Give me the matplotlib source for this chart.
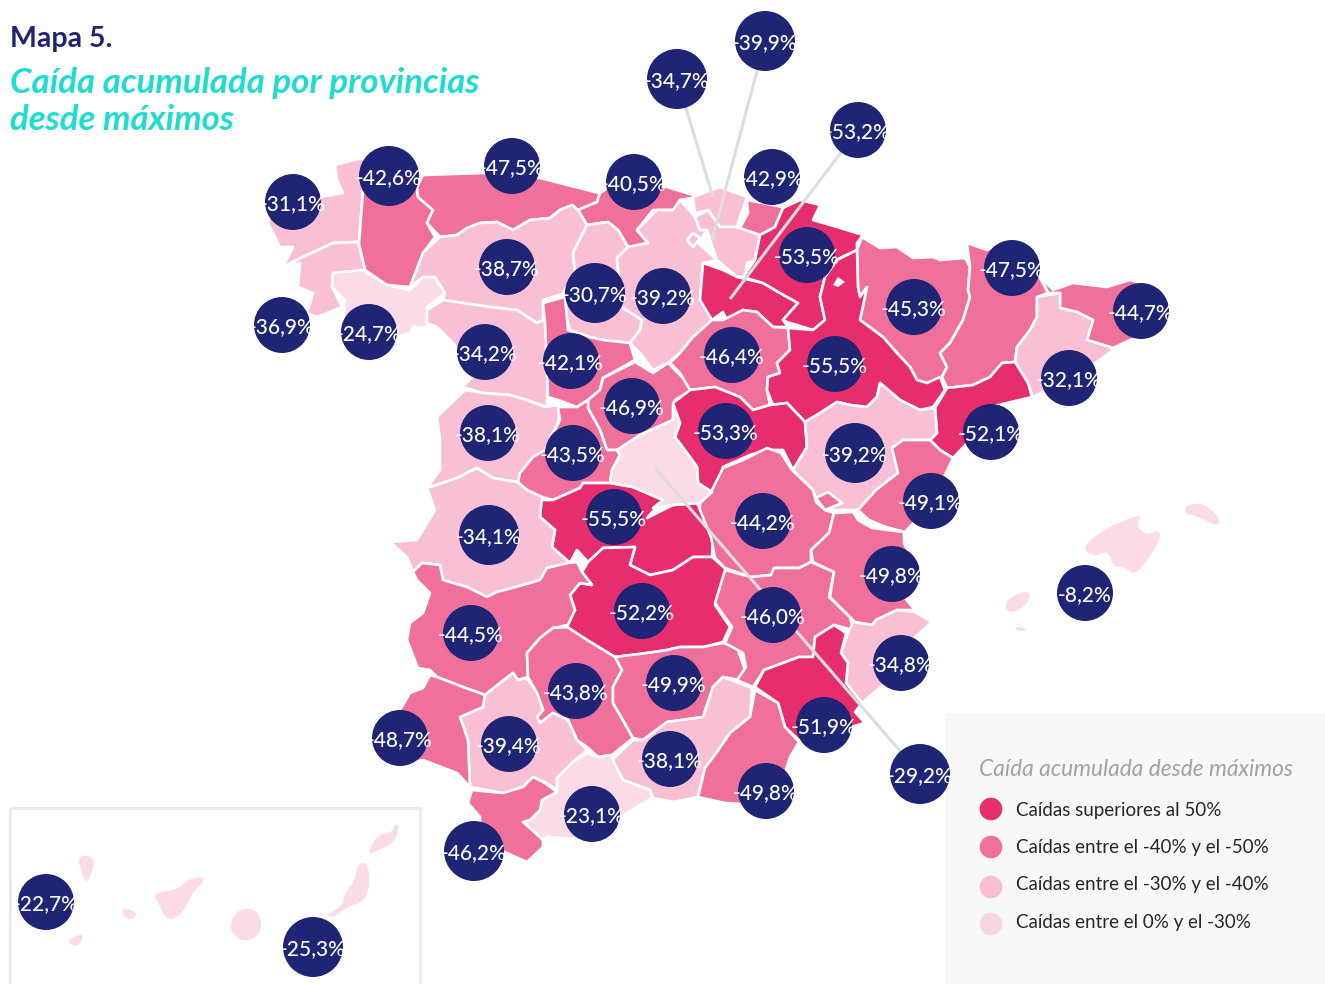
import matplotlib
matplotlib.use("Agg")
import matplotlib.pyplot as plt
from matplotlib.patches import Polygon, Circle, Rectangle

names = ["A Coruna", "Lugo", "Asturias", "Cantabria", "Pontevedra", "Ourense", "Leon", "Palencia", "Burgos",
         "Zamora", "Valladolid", "Segovia", "Salamanca", "Avila", "Bizkaia", "Alava", "La Rioja", "Gipuzkoa",
         "Navarra", "Huesca", "Lleida", "Girona", "Barcelona", "Soria", "Zaragoza", "Guadalajara", "Tarragona",
         "Teruel", "Toledo", "Caceres", "Ciudad Real", "Badajoz", "Cordoba", "Jaen", "Sevilla", "Granada",
         "Malaga", "Cadiz", "Huelva", "Cuenca", "Albacete", "Castellon", "Valencia", "Alicante", "Murcia",
         "Almeria", "Madrid", "Baleares", "Tenerife", "Las Palmas"]
values = [-31.1, -42.6, -47.5, -40.5, -36.9, -24.7, -38.7, -30.7, -39.2,
          -34.2, -42.1, -46.9, -38.1, -43.5, -34.7, -39.9, -53.2, -42.9,
          -53.5, -45.3, -47.5, -44.7, -32.1, -46.4, -55.5, -53.3, -52.1,
          -39.2, -55.5, -34.1, -52.2, -44.5, -43.8, -49.9, -39.4, -38.1,
          -23.1, -46.2, -48.7, -44.2, -46.0, -49.1, -49.8, -34.8, -51.9,
          -49.8, -29.2, -8.2, -22.7, -25.3]
bubble_x = [293, 389, 512, 634, 282, 369, 507, 595, 663,
            485, 571, 632, 488, 573, 677, 765, 858, 772,
            807, 914, 1012, 1141, 1069, 732, 835, 726, 991,
            855, 614, 489, 642, 471, 576, 674, 509, 670,
            592, 474, 400, 763, 773, 931, 892, 901, 824,
            766, 920, 1085, 46, 313]
bubble_y = [202, 176, 166, 182, 325, 332, 267, 293, 296,
            352, 361, 406, 433, 453, 79, 41, 130, 177,
            255, 307, 268, 311, 378, 355, 364, 431, 432,
            453, 517, 535, 611, 633, 691, 683, 744, 759,
            814, 851, 738, 521, 615, 501, 574, 663, 725,
            791, 774, 593, 902, 947]
big_bubbles = ["Lugo", "Palencia", "Bizkaia", "Alava", "Teruel", "Caceres", "Cadiz", "Madrid", "Las Palmas"]

legend_labels = ["Caídas superiores al 50%", "Caídas entre el -40% y el -50%",
                 "Caídas entre el -30% y el -40%", "Caídas entre el 0% y el -30%"]
legend_colors = ["#E62D6E", "#EF709B", "#F8BFD4", "#F7D6E3"]
legend_y = [809, 847, 887, 924]
legend_text_y = [816, 853, 890, 928]

# outlines traced in picture pixels
shapes = {
    "A Coruna": [[(268,223),(270,205),(300,185),(320,197),(343,193),(337,180),(335,165),(362,158),(372,175),(363,190),(359,242),(333,243),(303,257),(283,267),(293,247),(280,247)]],
    "Lugo": [[(363,190),(362,175),(385,165),(405,175),(417,187),(418,197),(433,210),(427,223),(435,237),(423,253),(410,287),(387,285),(365,270),(359,244)]],
    "Asturias": [[(417,187),(423,175),(483,173),(540,178),(595,192),(600,193),(597,202),(578,210),(572,205),(560,210),(550,218),(530,220),(513,230),(497,222),(480,223),(467,228),(457,235),(440,237),(427,223),(433,210),(418,197)]],
    "Cantabria": [[(600,193),(620,180),(667,187),(693,195),(697,197),(680,200),(675,210),(653,210),(637,230),(648,243),(628,247),(618,230),(608,222),(587,225),(578,210),(597,202)]],
    "Pontevedra": [[(283,267),(303,257),(333,243),(358,242),(365,270),(333,273),(332,287),(342,307),(317,317),(307,313),(313,293),(298,287),(300,263)]],
    "Ourense": [[(333,273),(363,270),(387,285),(410,290),(423,277),(435,277),(445,293),(427,307),(427,327),(413,327),(410,333),(397,337),(370,350),(343,323),(345,300),(332,287)]],
    "Leon": [[(423,253),(440,237),(457,235),(467,228),(480,223),(497,222),(513,230),(530,220),(550,218),(560,210),(572,205),(578,210),(587,225),(583,233),(573,253),(575,273),(565,293),(543,300),(543,320),(537,323),(517,310),(490,307),(463,303),(443,300),(445,293),(435,277),(423,277),(410,287)]],
    "Palencia": [[(587,225),(608,222),(618,230),(628,247),(617,258),(618,270),(622,307),(642,320),(640,330),(630,343),(603,340),(590,337),(570,330),(567,320),(563,293),(575,273),(573,253)]],
    "Burgos": [[(637,230),(657,210),(673,210),(680,200),(695,217),(700,230),(707,230),(698,243),(717,260),(703,263),(700,300),(713,320),(693,337),(680,353),(668,363),(653,370),(640,353),(630,343),(640,330),(642,320),(622,307),(618,270),(617,258),(628,247),(648,243)],
               [(717,250),(723,245),(740,252),(738,260),(727,262)], [(687,240),(693,233),(700,238),(693,247)]],
    "Zamora": [[(427,310),(443,300),(463,303),(490,307),(517,310),(537,323),(543,320),(548,327),(547,407),(527,400),(510,395),(483,393),(463,387),(472,377),(455,345),(437,327),(427,323)]],
    "Valladolid": [[(543,303),(565,297),(568,330),(590,337),(603,340),(630,343),(635,360),(603,378),(600,390),(588,400),(577,407),(558,400),(548,397),(545,323)]],
    "Segovia": [[(635,362),(653,373),(668,363),(683,378),(692,390),(675,400),(673,420),(640,435),(617,450),(607,450),(600,430),(588,408),(588,400),(600,390),(603,378)]],
    "Salamanca": [[(437,417),(465,390),(483,393),(510,395),(527,400),(545,407),(558,405),(559,420),(545,450),(525,470),(517,482),(493,478),(477,468),(457,478),(427,488),(440,470),(440,440)]],
    "Avila": [[(558,407),(577,407),(588,400),(588,408),(600,430),(607,450),(617,450),(620,455),(612,470),(610,483),(583,483),(580,488),(553,500),(542,497),(527,490),(518,482),(520,473),(533,457),(545,450),(560,420)]],
    "Bizkaia": [[(693,197),(720,187),(747,197),(740,217),(737,227),(720,227),(708,210),(695,213)]],
    "Alava": [[(695,217),(708,210),(720,227),(737,227),(760,235),(755,260),(747,263),(745,277),(737,277),(717,260),(707,230),(700,230)]],
    "La Rioja": [[(703,263),(723,270),(737,277),(763,283),(780,293),(798,303),(783,320),(788,327),(773,327),(757,312),(743,310),(727,320),(723,312),(712,320),(700,300)]],
    "Gipuzkoa": [[(747,200),(783,207),(793,200),(783,208),(775,227),(760,235),(740,228),(748,213)]],
    "Navarra": [[(800,200),(820,205),(813,220),(837,227),(863,235),(857,243),(857,250),(842,257),(837,260),(825,277),(820,297),(825,320),(813,330),(787,322),(783,320),(798,303),(780,293),(763,283),(743,277),(755,260),(760,235),(775,227),(783,208)]],
    "Huesca": [[(862,237),(880,248),(897,247),(913,258),(933,257),(940,260),(965,258),(970,267),(968,290),(970,297),(963,320),(950,343),(940,353),(947,367),(942,377),(927,383),(917,380),(910,367),(897,353),(883,337),(860,320),(867,287),(860,297),(858,287),(857,250)]],
    "Lleida": [[(967,243),(987,250),(1010,240),(1040,278),(1048,293),(1037,297),(1037,317),(1030,330),(1017,347),(1015,362),(1002,363),(990,377),(973,385),(947,388),(942,377),(947,367),(940,353),(950,343),(963,320),(970,297),(968,290),(970,267)]],
    "Girona": [[(1042,278),(1053,290),(1073,283),(1107,287),(1130,280),(1140,283),(1160,300),(1147,333),(1130,340),(1113,348),(1110,347),(1087,340),(1093,320),(1077,312),(1060,308),(1060,293),(1048,293)]],
    "Barcelona": [[(1037,297),(1060,293),(1060,308),(1077,312),(1093,320),(1087,340),(1110,347),(1113,350),(1097,362),(1075,375),(1033,397),(1028,383),(1015,362),(1017,347),(1030,330),(1037,317)]],
    "Soria": [[(723,320),(743,310),(757,312),(773,327),(788,328),(790,350),(777,363),(780,373),(768,377),(767,390),(770,405),(753,410),(740,397),(715,387),(690,390),(680,373),(670,363),(680,353),(693,337),(712,320)]],
    "Zaragoza": [[(857,250),(858,287),(860,297),(867,287),(860,320),(883,337),(897,353),(910,367),(917,380),(927,383),(940,377),(945,390),(933,407),(920,410),(900,400),(880,383),(877,397),(867,407),(850,405),(837,402),(820,413),(805,422),(787,403),(773,405),(767,390),(768,377),(780,373),(777,363),(790,350),(788,328),(813,330),(825,320),(820,297),(825,277),(837,260)]],
    "Guadalajara": [[(673,403),(690,390),(715,387),(740,397),(753,410),(770,405),(787,403),(805,422),(807,447),(793,470),(783,450),(767,450),(750,455),(723,467),(720,487),(712,492),(698,483),(697,467),(687,453),(675,437),(680,423)]],
    "Tarragona": [[(947,388),(973,385),(990,377),(1002,363),(1015,362),(1028,383),(1032,397),(990,407),(970,440),(953,458),(940,450),(930,440),(937,433),(935,408)]],
    "Teruel": [[(805,422),(820,413),(837,402),(850,405),(867,407),(877,397),(880,383),(900,400),(920,410),(935,408),(937,433),(930,440),(917,440),(903,440),(892,448),(898,473),(876,490),(858,510),(825,510),(816,500),(813,490),(793,470),(807,447)]],
    "Toledo": [[(540,500),(553,500),(580,488),(583,483),(610,483),(633,487),(663,500),(647,518),(673,505),(697,503),(713,537),(712,557),(693,557),(673,570),(650,575),(630,565),(635,547),(603,548),(588,562),(577,550),(570,563),(552,547),(555,530),(540,517)]],
    "Caceres": [[(427,488),(457,478),(477,468),(493,478),(517,482),(527,490),(542,497),(540,517),(555,530),(552,547),(570,563),(547,568),(540,580),(523,585),(497,592),(487,597),(467,587),(443,580),(440,565),(422,563),(413,572),(407,557),(390,542),(417,540),(435,510)]],
    "Ciudad Real": [[(588,562),(603,548),(635,547),(630,565),(650,575),(673,570),(693,557),(712,557),(727,570),(718,597),(715,605),(730,627),(723,642),(703,647),(680,647),(667,650),(647,653),(615,657),(587,640),(567,627),(570,612),(575,610),(570,595),(580,583),(592,585),(582,572)]],
    "Badajoz": [[(413,572),(422,563),(440,565),(443,580),(467,587),(487,597),(497,592),(523,585),(540,580),(547,568),(568,563),(577,562),(582,572),(592,585),(580,583),(570,595),(575,610),(568,625),(553,628),(540,638),(527,653),(528,677),(518,680),(513,673),(500,683),(485,695),(463,687),(437,677),(430,670),(418,668),(407,640),(410,623),(423,613),(430,593),(417,580)]],
    "Cordoba": [[(567,627),(587,640),(615,657),(622,670),(613,687),(613,703),(620,715),(633,738),(612,755),(598,757),(587,747),(577,740),(568,720),(553,713),(540,723),(537,717),(543,710),(537,693),(528,677),(527,653),(540,638),(553,628)]],
    "Jaen": [[(615,657),(647,653),(667,650),(680,647),(703,647),(723,643),(737,647),(745,670),(740,680),(723,677),(713,687),(703,717),(667,722),(643,740),(633,738),(620,715),(613,703),(613,687),(622,670)]],
    "Sevilla": [[(527,678),(537,693),(543,710),(537,717),(540,723),(553,713),(568,720),(577,740),(587,750),(573,762),(557,778),(557,790),(545,782),(533,777),(523,787),(503,793),(470,787),(468,740),(460,717),(483,707),(485,695),(500,683),(513,673),(518,680)]],
    "Granada": [[(723,677),(752,688),(750,717),(730,733),(717,752),(705,768),(698,797),(673,802),(653,798),(650,790),(623,780),(612,760),(633,740),(643,740),(667,722),(703,717),(713,687)]],
    "Malaga": [[(587,753),(598,757),(612,755),(613,760),(623,780),(650,790),(652,798),(620,817),(590,840),(547,837),(543,840),(523,822),(530,820),(540,810),(542,800),(557,792),(557,778),(573,762)]],
    "Cadiz": [[(472,790),(503,793),(523,787),(533,777),(545,783),(557,792),(542,800),(540,810),(530,820),(523,822),(543,840),(543,847),(527,862),(507,853),(480,840),(480,817),(468,803)]],
    "Huelva": [[(430,675),(437,677),(463,687),(485,695),(483,707),(460,717),(468,740),(470,787),(457,773),(423,760),(400,765),(400,710),(410,693),(423,688)]],
    "Cuenca": [[(700,490),(711,492),(723,468),(743,460),(767,448),(781,453),(792,470),(813,490),(816,502),(825,510),(834,513),(829,533),(811,550),(811,562),(799,568),(774,568),(771,575),(751,577),(725,568),(715,558),(711,537),(700,510)]],
    "Albacete": [[(725,570),(751,577),(771,575),(774,568),(799,568),(811,562),(834,572),(829,597),(850,617),(853,630),(834,625),(815,637),(813,657),(799,657),(764,670),(753,687),(737,680),(746,667),(743,653),(725,643),(732,627),(715,603),(720,587)]],
    "Castellon": [[(892,448),(903,440),(917,440),(930,440),(940,450),(953,458),(945,475),(935,500),(905,532),(886,527),(869,520),(858,510),(876,490),(898,473)]],
    "Valencia": [[(834,513),(853,512),(858,520),(872,528),(904,532),(904,543),(918,573),(904,597),(915,610),(897,610),(876,620),(872,625),(855,622),(850,617),(830,597),(834,572),(813,562),(811,550),(829,533)],
                 [(816,498),(828,492),(842,503),(825,510)]],
    "Alicante": [[(853,622),(872,625),(876,620),(897,610),(915,612),(932,622),(915,637),(900,670),(862,703),(855,697),(846,683),(848,663),(841,653),(848,633)]],
    "Murcia": [[(834,625),(846,633),(841,653),(848,663),(846,683),(862,703),(855,712),(865,723),(851,727),(825,755),(799,740),(785,727),(778,703),(755,687),(764,670),(799,657),(813,657),(815,637)]],
    "Almeria": [[(755,690),(778,703),(785,727),(799,742),(790,757),(785,773),(760,805),(725,803),(698,797),(705,768),(717,752),(730,733),(750,717)]],
    "Madrid": [[(673,405),(680,423),(675,437),(687,453),(697,467),(698,483),(712,492),(700,503),(673,505),(653,508),(663,500),(633,487),(610,483),(612,470),(620,455),(617,450),(640,435),(673,420)]],
    "Baleares": [[(1081,547),(1108,527),(1143,513),(1136,525),(1146,535),(1160,530),(1160,540),(1146,563),(1134,575),(1125,567),(1113,567),(1108,550),(1094,557)],
                 [(1185,505),(1204,503),(1220,518),(1218,527),(1195,515),(1186,515)],
                 [(1004,610),(1009,597),(1029,590),(1030,600),(1016,613)],
                 [(1016,627),(1022,627),(1028,631),(1016,631)]],
    "Tenerife": [[(77,857),(90,855),(95,863),(87,885),(82,873)], [(65,942),(82,933),(83,937),(78,947)],
                 [(123,907),(138,913),(132,920),(123,917)],
                 [(153,893),(177,890),(190,878),(208,877),(192,893),(183,913),(168,922),(158,903)]],
    "Las Palmas": [[(240,908),(258,910),(262,927),(257,937),(243,942),(232,933),(230,923)],
                   [(358,863),(368,863),(370,887),(363,902),(347,907),(333,918),(325,915),(342,907),(345,893),(355,880)],
                   [(368,853),(377,835),(393,832),(395,823),(399,827),(395,842),(373,853)]],
}
islands = ["Baleares", "Tenerife", "Las Palmas"]
zaragoza_hole = [(833,285),(838,277),(845,282),(838,287)]
leaders = {"Bizkaia": (713, 197), "Alava": (712, 240), "La Rioja": (730, 299), "Madrid": (655, 468)}


def class_color(v):
    if v <= -50:
        return "#E62D6E"
    if v <= -40:
        return "#EF709B"
    if v <= -30:
        return "#F9C0D5"
    return "#FBDCE6"


def soften(ring, passes, cut):
    # cut the corners so the traced island outlines do not look faceted
    for _ in range(passes):
        out = []
        for i, (x0, y0) in enumerate(ring):
            x1, y1 = ring[(i + 1) % len(ring)]
            out.append(((1 - cut) * x0 + cut * x1, (1 - cut) * y0 + cut * y1))
            out.append((cut * x0 + (1 - cut) * x1, cut * y0 + (1 - cut) * y1))
        ring = out
    return ring


navy = "#1F2574"
sans = ["Lato", "DejaVu Sans"]

fig = plt.figure(figsize=(13.25, 9.84), dpi=100)
ax = fig.add_axes([0, 0, 1, 1])
ax.set_xlim(0, 1325)
ax.set_ylim(984, 0)
ax.axis("off")

ax.add_patch(Rectangle((945, 713), 390, 280, fc="#F8F8F6", ec="none", zorder=0))
ax.add_patch(Rectangle((10, 808), 410, 190, fc="none", ec="#ECECEC", lw=2.2, zorder=0))

for name, value in zip(names, values):
    for ring in shapes[name]:
        if name in islands:
            ax.add_patch(Polygon(soften(ring, 2, 0.25), closed=True, fc=class_color(value), ec="none", zorder=1))
        else:
            ax.add_patch(Polygon(ring, closed=True, fc=class_color(value), ec="white", lw=1.9,
                                 joinstyle="round", zorder=1))
ax.add_patch(Polygon(zaragoza_hole, closed=True, fc="white", ec="none", zorder=1))

for name, value, x, y in zip(names, values, bubble_x, bubble_y):
    if name in leaders:
        ex, ey = leaders[name]
        ax.plot([x, ex], [y, ey], color="#DEDEDE", lw=2.2, zorder=2, solid_capstyle="butt")
    r = 30 if name in big_bubbles else 28
    ax.add_patch(Circle((x, y), r, fc=navy, ec="none", zorder=3))
    label = f"{value:.1f}".replace(".", ",") + "%"
    ax.text(x, y, label, color="white", fontsize=15, family=sans, weight="medium",
            ha="center", va="center_baseline", zorder=4)

ax.text(10, 47, "Mapa 5.", color=navy, fontsize=20.5, family=sans, weight="bold", va="baseline")
ax.text(10, 93, "Caída acumulada por provincias", color="#1FDCD0", fontsize=25,
        family=sans, style="italic", weight="bold", va="baseline")
ax.text(10, 130, "desde máximos", color="#1FDCD0", fontsize=25,
        family=sans, style="italic", weight="bold", va="baseline")

ax.text(979, 776, "Caída acumulada desde máximos", color="#A2A2A2", fontsize=16.4,
        family=sans, style="italic", va="baseline")
for label, color, y, ty in zip(legend_labels, legend_colors, legend_y, legend_text_y):
    ax.add_patch(Circle((991, y), 11.3, fc=color, ec="none", zorder=3))
    ax.text(1016, ty, label, color="#262626", fontsize=13.5, family=sans, va="baseline")

fig.savefig("out.png", dpi=100, facecolor="white")
